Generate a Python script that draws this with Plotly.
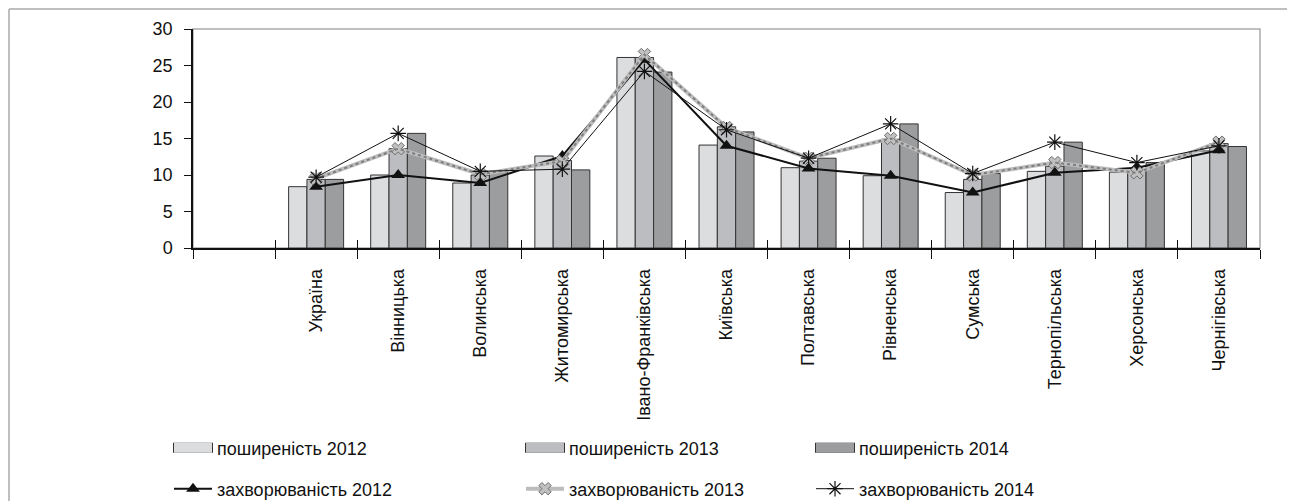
import plotly.graph_objects as go

categories = [" ", "Україна", "Вінницька", "Волинська", "Житомирська", "Івано-Франківська",
              "Київська", "Полтавська", "Рівненська", "Сумська", "Тернопільська",
              "Херсонська", "Чернігівська"]

prev2012 = [None, 8.4, 10.0, 8.9, 12.6, 26.1, 14.1, 11.0, 9.9, 7.6, 10.5, 10.4, 13.3]
prev2013 = [None, 9.4, 13.6, 10.0, 12.0, 26.1, 16.6, 11.9, 14.9, 9.4, 11.2, 10.5, 14.3]
prev2014 = [None, 9.4, 15.7, 10.5, 10.7, 24.1, 15.9, 12.3, 17.0, 10.2, 14.5, 11.7, 13.9]
inc2012 = [None, 8.4, 10.0, 8.9, 12.6, 25.8, 14.0, 10.9, 9.9, 7.6, 10.3, 11.0, 13.4]
inc2013 = [None, 9.5, 13.6, 10.1, 11.9, 26.5, 16.5, 12.3, 15.0, 10.0, 11.7, 10.3, 14.5]
inc2014 = [None, 9.7, 15.7, 10.5, 10.8, 24.2, 16.2, 12.3, 17.0, 10.2, 14.5, 11.7, 14.0]

yticks = [0, 5, 10, 15, 20, 25, 30]

names = ["поширеність 2012", "поширеність 2013", "поширеність 2014",
         "захворюваність 2012", "захворюваність 2013", "захворюваність 2014"]

FONT = "Liberation Sans, Arial, sans-serif"
FS = 18
fig = go.Figure()

bar_colors = ["#dcdddf", "#bcbdc0", "#9c9d9f"]
under_legends = ["legend", "legend2", "legend3"]
bar_legends = ["legend4", "legend5", "legend6"]
line_legends = ["legend7", "legend8", "legend9"]

for vals, nm, col in zip([prev2012, prev2013, prev2014], names[:3], bar_colors):
    fig.add_trace(go.Bar(x=categories, y=vals, name=nm, showlegend=False,
                         marker=dict(color=col, line=dict(color="#333333", width=1))))

# legend swatches for bar series (wide rectangles with dark outline)
for nm, col, lgu, lg in zip(names[:3], bar_colors, under_legends, bar_legends):
    fig.add_trace(go.Scatter(x=[None], y=[None], mode="lines", name=nm,
                             legend=lgu, hoverinfo="skip",
                             line=dict(color="#333333", width=14)))
    fig.add_trace(go.Scatter(x=[None], y=[None], mode="lines", name=nm,
                             legend=lg, hoverinfo="skip",
                             line=dict(color=col, width=12)))

fig.add_trace(go.Scatter(x=categories, y=inc2012, name=names[3], legend=line_legends[0],
                         mode="lines+markers", connectgaps=False,
                         line=dict(color="#111111", width=2),
                         marker=dict(symbol="triangle-up", size=12, color="#111111")))
fig.add_trace(go.Scatter(x=categories, y=inc2013, name=names[4], legend=line_legends[1],
                         mode="lines+markers",
                         line=dict(color="#bdbdbd", width=4),
                         marker=dict(symbol="x", size=11, color="#c0c0c0",
                                     line=dict(color="#6f6f6f", width=1))))
fig.add_trace(go.Scatter(x=categories, y=inc2013, showlegend=False, hoverinfo="skip",
                         mode="lines", line=dict(color="#7d7d7d", width=2, dash="dot")))
fig.add_trace(go.Scatter(x=categories, y=inc2014, name=names[5], legend=line_legends[2],
                         mode="lines+markers",
                         line=dict(color="#111111", width=1),
                         marker=dict(symbol="asterisk-open", size=13,
                                     line=dict(color="#111111", width=1.2))))
# invisible helper trace for the inner tick axis
fig.add_trace(go.Scatter(x=categories, y=[None] * len(categories), xaxis="x2",
                         showlegend=False, hoverinfo="skip", mode="lines"))

# page has an 8px body margin; coordinates below are window pixels
OFF = 8
FIG_W, FIG_H = 1295 - 2 * OFF, 501 - OFF
L, R, T, B = 193, 1260, 29, 248
W, H = R - L, B - T

def px(xp):
    return (xp - L) / W

def py(yp):
    return (B - yp) / H

leg_common = dict(xanchor="left", yanchor="middle", bgcolor="rgba(0,0,0,0)",
                  font=dict(family=FONT, size=FS, color="#111111"), itemwidth=38,
                  orientation="v")
leg_under = dict(leg_common)
leg_under.update(font=dict(family=FONT, size=FS, color="rgba(0,0,0,0)"), itemwidth=40)

legend_cols = [169, 521, 811]
row1, row2 = 448, 489

layout_legends = {}
for lgu, lg, xc in zip(under_legends, bar_legends, legend_cols):
    layout_legends[lg] = dict(x=px(xc), y=py(row1), **leg_common)
    layout_legends[lgu] = dict(x=px(xc - 1), y=py(row1), **leg_under)
for lg, xc in zip(line_legends, legend_cols):
    layout_legends[lg] = dict(x=px(xc), y=py(row2), **leg_common)

fig.update_layout(
    width=FIG_W, height=FIG_H,
    margin=dict(l=L - OFF, r=1295 - OFF - R, t=T - OFF, b=501 - B, autoexpand=False),
    paper_bgcolor="white", plot_bgcolor="white",
    barmode="group", bargap=0.33, bargroupgap=0,
    font=dict(family=FONT, size=FS, color="#111111"),
    xaxis=dict(type="category", categoryorder="array", categoryarray=categories,
               range=[-0.5, len(categories) - 0.5],
               tickson="boundaries", ticks="outside", ticklen=9, tickcolor="#111111",
               tickwidth=1, showline=True, linecolor="#111111", linewidth=1.5,
               tickangle=-90, showgrid=False, zeroline=False, ticklabelstandoff=12,
               tickfont=dict(family=FONT, size=FS, color="#111111")),
    xaxis2=dict(type="category", categoryorder="array", categoryarray=categories,
                range=[-0.5, len(categories) - 0.5], overlaying="x", side="bottom",
                tickson="boundaries", ticks="inside", ticklen=8, tickcolor="#111111",
                tickwidth=1, showticklabels=False, showline=False, showgrid=False,
                zeroline=False),
    yaxis=dict(range=[0, 30], tickvals=yticks, ticks="outside", ticklen=7,
               tickcolor="#111111", showline=True, linecolor="#111111", linewidth=1.5,
               showgrid=False, zeroline=False, ticklabelstandoff=8,
               tickfont=dict(family=FONT, size=FS, color="#111111")),
    shapes=[
        dict(type="rect", xref="paper", yref="paper", x0=0, x1=1, y0=0, y1=1,
             line=dict(color="#aaaaaa", width=1.5), layer="below"),
        dict(type="line", xref="paper", yref="paper", x0=px(9), x1=px(1300),
             y0=py(9), y1=py(9), line=dict(color="#aaaaaa", width=1.5)),
        dict(type="line", xref="paper", yref="paper", x0=px(9), x1=px(9),
             y0=py(9), y1=py(510), line=dict(color="#aaaaaa", width=1.5)),
    ],
    **layout_legends,
)

fig.write_html("out.html")
